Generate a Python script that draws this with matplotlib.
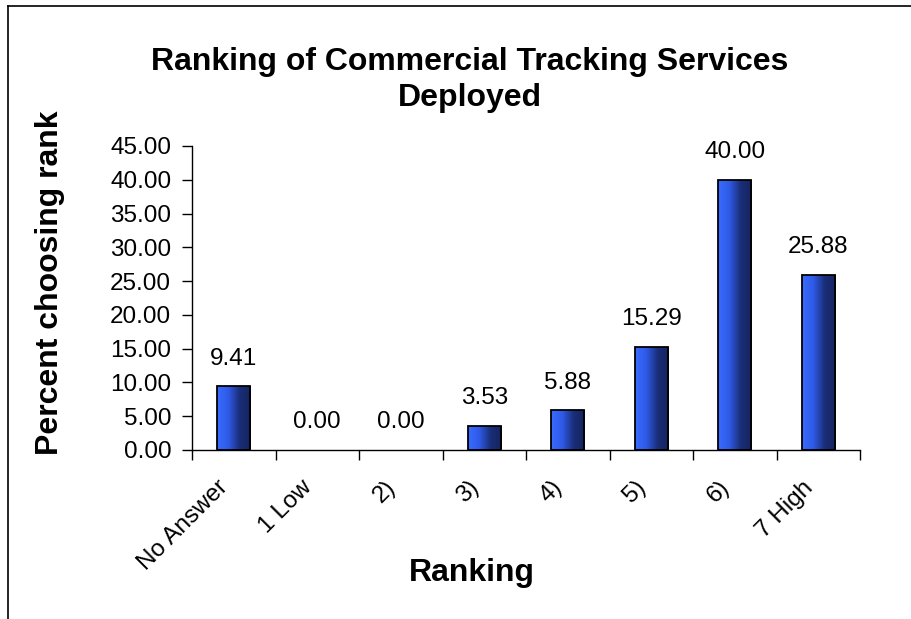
import matplotlib
matplotlib.use("Agg")
import matplotlib.pyplot as plt
import numpy as np
from matplotlib.colors import LinearSegmentedColormap
from matplotlib.lines import Line2D

plt.rcParams['font.family'] = ['Liberation Sans', 'DejaVu Sans']

categories = ['No Answer', '1 Low', '2)', '3)', '4)', '5)', '6)', '7 High']
percents = [9.41, 0.00, 0.00, 3.53, 5.88, 15.29, 40.00, 25.88]
yticks = [0, 5, 10, 15, 20, 25, 30, 35, 40, 45]

W, H = 911, 619
fig = plt.figure(figsize=(W / 100, H / 100), dpi=100)
ax = fig.add_axes([192 / W, 1 - 450 / H, (860 - 192) / W, (450 - 146) / H])

x = np.arange(len(categories))
bars = ax.bar(x, percents, width=0.4, color='none', edgecolor='black', linewidth=1.3, zorder=3)

# horizontal gradient fill, bright blue -> navy
cmap = LinearSegmentedColormap.from_list('blu', ['#3a6cff', '#2f5ae8', '#1a2e78', '#16245e'])
grad = np.linspace(0, 1, 256).reshape(1, -1)
for b in bars:
    if b.get_height() <= 0:
        b.set_linewidth(0)
        continue
    x0, w, h = b.get_x(), b.get_width(), b.get_height()
    im = ax.imshow(grad, cmap=cmap, aspect='auto', extent=[x0, x0 + w, 0, h], zorder=2)
    im.set_clip_path(b)

for xi, v in zip(x, percents):
    ax.annotate('%.2f' % v, (xi, v), xytext=(0, 12), textcoords='offset points',
                ha='center', va='bottom', fontsize=17.5)

ax.set_xlim(-0.5, len(categories) - 0.5)
ax.set_ylim(0, 45)
ax.set_yticks(yticks)
ax.set_yticklabels(['%.2f' % t for t in yticks], fontsize=17.5)
# label anchors sit a bit left of the bar centres (invisible major ticks)
ax.set_xticks(x - 0.2)
ax.set_xticklabels(categories, rotation=45, ha='right', va='top', rotation_mode='anchor', fontsize=17.5)
ax.set_xticks(np.arange(len(categories) + 1) - 0.5, minor=True)
ax.tick_params(axis='x', which='major', length=0, pad=19)
ax.tick_params(axis='x', which='minor', length=7, width=1, direction='out')
ax.tick_params(axis='y', length=7, width=1, direction='out', pad=8)

for s in ['top', 'right']:
    ax.spines[s].set_visible(False)
ax.spines['left'].set_linewidth(1)
ax.spines['bottom'].set_linewidth(1)

# axis titles placed like the original chart
fig.text(50 / W, 1 - 283 / H, 'Percent choosing rank', rotation=90, ha='center', va='center',
         fontsize=23, fontweight='bold')
fig.text(472 / W, 1 - 581 / H, 'Ranking', ha='center', va='baseline',
         fontsize=23, fontweight='bold')

fig.text(470 / W, 1 - 80 / H, 'Ranking of Commercial Tracking Services\nDeployed',
         ha='center', va='center', fontsize=23, fontweight='bold', linespacing=1.25)

# chart area border (right/bottom edges fall outside the image)
fig.add_artist(Line2D([8 / W, 8 / W], [0, 1 - 6 / H], color='black', linewidth=1.2))
fig.add_artist(Line2D([8 / W, 1], [1 - 6 / H, 1 - 6 / H], color='black', linewidth=1.2))

fig.savefig('out.png', dpi=100)
